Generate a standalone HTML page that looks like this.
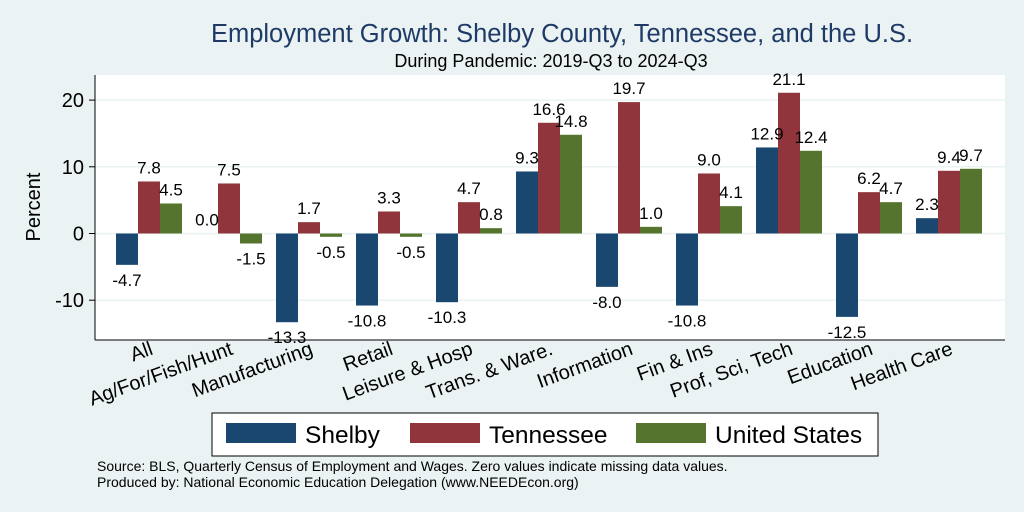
<!DOCTYPE html>
<html><head><meta charset="utf-8"><style>
body{margin:0;background:#eaf2f3;}
svg{display:block;font-family:"Liberation Sans",Arial,sans-serif;}
</style></head><body>
<svg id="chart" width="1024" height="512" viewBox="0 0 1024 512">
<rect x="0" y="0" width="1024" height="512" fill="#eaf2f3"/>
<text x="562" y="42" font-size="25.5" fill="#1e3a66" text-anchor="middle">Employment Growth: Shelby County, Tennessee, and the U.S.</text>
<text x="551" y="67" font-size="18" fill="#000" text-anchor="middle">During Pandemic: 2019-Q3 to 2024-Q3</text>
<rect x="95" y="75" width="910" height="265" fill="#fff"/>
<g id="grid"></g>
<g id="bars"></g>
<g id="labels"></g>
<line x1="95" y1="75" x2="95" y2="340" stroke="#000" stroke-width="1"/>
<line x1="95" y1="340" x2="1005" y2="340" stroke="#000" stroke-width="1"/>
<text transform="translate(40,207) rotate(-90)" font-size="20" text-anchor="middle">Percent</text>
<g id="ticks"></g>
<g id="cats"></g>
<rect x="212" y="413" width="666" height="43" fill="#fff" stroke="#000" stroke-width="1"/>
<rect x="226" y="423" width="70" height="20" fill="#1a476f"/>
<text x="305" y="443" font-size="24.5">Shelby</text>
<rect x="410" y="423" width="70" height="20" fill="#90353b"/>
<text x="489" y="443" font-size="24.5">Tennessee</text>
<rect x="636" y="423" width="70" height="20" fill="#55752f"/>
<text x="715" y="443" font-size="24.5">United States</text>
<text x="97" y="471" font-size="14">Source: BLS, Quarterly Census of Employment and Wages. Zero values indicate missing data values.</text>
<text x="97" y="487" font-size="14">Produced by: National Economic Education Delegation (www.NEEDEcon.org)</text>
</svg>
<script>
const categories=["All","Ag/For/Fish/Hunt","Manufacturing","Retail","Leisure & Hosp","Trans. & Ware.","Information","Fin & Ins","Prof, Sci, Tech","Education","Health Care"];
const shelby=[-4.7,0.0,-13.3,-10.8,-10.3,9.3,-8.0,-10.8,12.9,-12.5,2.3];
const tennessee=[7.8,7.5,1.7,3.3,4.7,16.6,19.7,9.0,21.1,6.2,9.4];
const unitedStates=[4.5,-1.5,-0.5,-0.5,0.8,14.8,1.0,4.1,12.4,4.7,9.7];
const yTicks=[-10,0,10,20];
const NS="http://www.w3.org/2000/svg";
function y(v){return 233.5-v*6.67;}
function cx(i){return 149+i*80;}
function mk(tag,attrs,parent,txt){const e=document.createElementNS(NS,tag);for(const k in attrs)e.setAttribute(k,attrs[k]);if(txt!==undefined)e.textContent=txt;document.getElementById(parent).appendChild(e);return e;}
yTicks.forEach(t=>{
  const g=mk('line',{x1:95,x2:1005,y1:y(t),y2:y(t),stroke:'#eaf2f3','stroke-width':1.5},'grid');
  
  
  const tk=mk('line',{x1:89,x2:95,y1:y(t),y2:y(t),stroke:'#000'},'ticks');
  
  
  const tl=mk('text',{x:84,y:y(t)+7,'font-size':20,'text-anchor':'end'},'ticks',String(t));
  
  
});
const series=[[shelby,'#1a476f',-33,'shelby'],[tennessee,'#90353b',-11,'tennessee'],[unitedStates,'#55752f',11,'us']];
series.forEach(([vals,col,off,nm])=>{
  vals.forEach((v,i)=>{
    const x=cx(i)+off;
    const top=Math.min(y(v),y(0)),h=Math.abs(y(v)-y(0));
    const r=mk('rect',{x:x,y:top,width:22,height:h,fill:col},'bars');
    
    
    const ly=v>=0?y(v)-8:y(v)+21;
    const t=mk('text',{x:x+11,y:ly,'font-size':17,'text-anchor':'middle'},'labels',v.toFixed(1));
    
    
  });
});
categories.forEach((c,i)=>{
  const t=mk('text',{transform:'translate('+(cx(i)+5)+',354) rotate(-20)','font-size':20,'text-anchor':'end'},'cats',c);
  
  
});
</script>
</body></html>
